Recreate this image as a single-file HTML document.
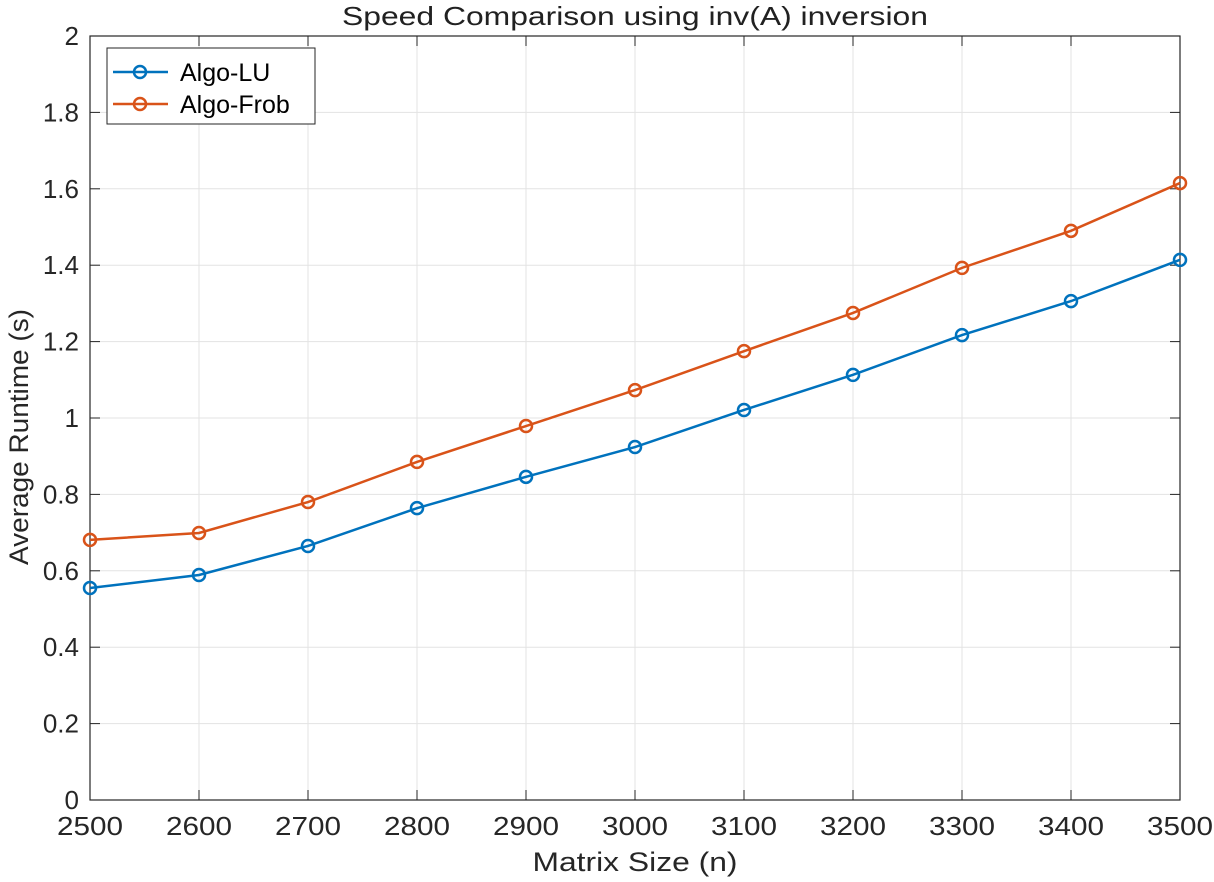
<!DOCTYPE html>
<html><head><meta charset="utf-8"><style>
body{margin:0;background:#fff;}
svg{display:block;font-family:"Liberation Sans",Arial,sans-serif;}
</style></head><body>
<svg id="chart" width="1214" height="882" viewBox="0 0 1214 882">
<rect width="1214" height="882" fill="#fff"/>
<g id="grid"></g>
<g id="axes"></g>
<g id="series"></g>
<text x="635" y="25" text-anchor="middle" font-size="26" textLength="586" lengthAdjust="spacingAndGlyphs" fill="#212121">Speed Comparison using inv(A) inversion</text>
<text x="635" y="871" text-anchor="middle" font-size="27" textLength="205" lengthAdjust="spacingAndGlyphs" fill="#262626">Matrix Size (n)</text>
<text transform="translate(28,437) rotate(-90)" text-anchor="middle" font-size="27" textLength="256" lengthAdjust="spacingAndGlyphs" fill="#262626">Average Runtime (s)</text>
<g>
<rect x="107" y="48" width="208" height="76" fill="#fff" stroke="#262626" stroke-width="1"/>
<g>
<line x1="113" y1="72" x2="168" y2="72" stroke="#0072BD" stroke-width="2.5"/>
<circle cx="140" cy="72" r="6" fill="none" stroke="#0072BD" stroke-width="2.5"/>
<text x="180" y="81" font-size="25" fill="#000">Algo-LU</text></g>
<g>
<line x1="113" y1="104" x2="168" y2="104" stroke="#D95319" stroke-width="2.5"/>
<circle cx="140" cy="104" r="6" fill="none" stroke="#D95319" stroke-width="2.5"/>
<text x="180" y="113" font-size="25" fill="#000">Algo-Frob</text></g>
</g>
</svg>
<script>
const categories=[2500,2600,2700,2800,2900,3000,3100,3200,3300,3400,3500];
const luValues=[0.555,0.589,0.665,0.764,0.846,0.924,1.021,1.113,1.217,1.306,1.414];
const frobValues=[0.681,0.699,0.780,0.885,0.979,1.073,1.175,1.275,1.393,1.490,1.615];
const yTicks=[0,0.2,0.4,0.6,0.8,1,1.2,1.4,1.6,1.8,2];
const yTickLabels=["0","0.2","0.4","0.6","0.8","1","1.2","1.4","1.6","1.8","2"];
const NS="http://www.w3.org/2000/svg";
const L=90,R=1180,T=36,B=800;
const xS=v=>L+(v-2500)/1000*(R-L);
const yS=v=>B-v/2*(B-T);
function mk(tag,attrs,parent){const e=document.createElementNS(NS,tag);for(const k in attrs)e.setAttribute(k,attrs[k]);parent.appendChild(e);return e;}
const grid=document.getElementById('grid'),axes=document.getElementById('axes'),ser=document.getElementById('series');
mk('rect',{x:L,y:T,width:R-L,height:B-T,fill:'#fff'},grid);
categories.forEach(c=>{
 const g=mk('line',{x1:xS(c),x2:xS(c),y1:T,y2:B,stroke:'#e3e3e3','stroke-width':1},grid);
 
 
 mk('line',{x1:xS(c),x2:xS(c),y1:B,y2:B-10,stroke:'#262626','stroke-width':1},axes);
 mk('line',{x1:xS(c),x2:xS(c),y1:T,y2:T+10,stroke:'#262626','stroke-width':1},axes);
 const t=mk('text',{x:xS(c),y:B+35,'text-anchor':'middle','font-size':26,textLength:66,lengthAdjust:'spacingAndGlyphs',fill:'#262626'},axes);
 t.textContent=c;
 
 
});
yTicks.forEach((v,i)=>{
 const g=mk('line',{x1:L,x2:R,y1:yS(v),y2:yS(v),stroke:'#e3e3e3','stroke-width':1},grid);
 
 
 mk('line',{x1:L,x2:L+10,y1:yS(v),y2:yS(v),stroke:'#262626','stroke-width':1},axes);
 mk('line',{x1:R,x2:R-10,y1:yS(v),y2:yS(v),stroke:'#262626','stroke-width':1},axes);
 const t=mk('text',{x:L-11,y:yS(v)+9,'text-anchor':'end','font-size':26,fill:'#262626'},axes);
 t.textContent=yTickLabels[i];
 
 
});
const frame=mk('rect',{x:L,y:T,width:R-L,height:B-T,fill:'none',stroke:'#262626','stroke-width':1.2},axes);


function drawSeries(vals,color,name){
 const g=mk('g',{},ser);
 
 
 const p=mk('polyline',{points:vals.map((v,i)=>xS(categories[i])+','+yS(v)).join(' '),fill:'none',stroke:color,'stroke-width':2.5},g);
 
 
 vals.forEach((v,i)=>{
  const c=mk('circle',{cx:xS(categories[i]),cy:yS(v),r:6,fill:'none',stroke:color,'stroke-width':2.5},g);
  
  
 });
}
drawSeries(luValues,'#0072BD','algo-lu-series');
drawSeries(frobValues,'#D95319','algo-frob-series');
</script>
</body></html>
